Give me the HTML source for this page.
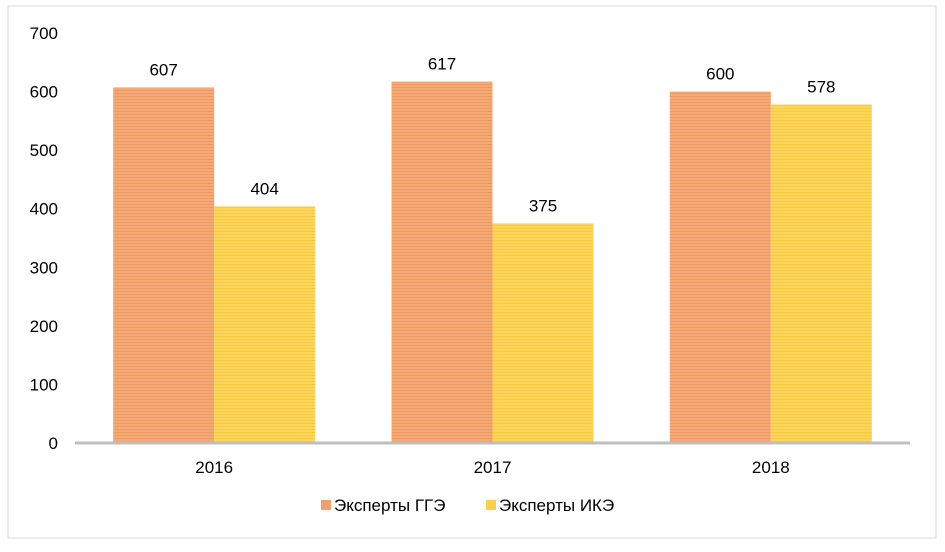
<!DOCTYPE html>
<html><head><meta charset="utf-8"><style>
body{margin:0;background:#fff;font-family:"Liberation Sans",sans-serif;}
svg text{font-family:"Liberation Sans",sans-serif;fill:#000;}
</style></head><body>
<svg width="945" height="547">
<defs>
<pattern id="po" width="4" height="3" patternUnits="userSpaceOnUse"><rect width="4" height="3" fill="#f4a976"/><rect width="4" height="1" fill="#ec9a62"/></pattern>
<pattern id="py" width="4" height="3" patternUnits="userSpaceOnUse"><rect width="4" height="3" fill="#fcd55c"/><rect width="4" height="1" fill="#f8cc40"/></pattern>
</defs>
<rect x="8" y="6" width="928" height="532" fill="#fff" stroke="#d9d9d9"/>
<g id="yaxis"></g><g id="bars"></g>
<line x1="75" y1="443" x2="910" y2="443" stroke="#bfbfbf" stroke-width="3"/>
<g>
<rect x="321" y="500" width="10" height="10" fill="#f0a06a"/>
<text x="334" y="511" font-size="17">Эксперты ГГЭ</text>
<rect x="486" y="500" width="10" height="10" fill="#fcd04c"/>
<text x="499" y="511" font-size="17">Эксперты ИКЭ</text>
</g>
</svg>
<script>
const categories=["2016","2017","2018"];
const gge=[607,617,600];
const ike=[404,375,578];
const ticks=[0,100,200,300,400,500,600,700];
const NS="http://www.w3.org/2000/svg";
const y0=443,y1=33,vmax=700,xl=75,xr=910;
const Y=v=>y0-(v/vmax)*(y0-y1);
const cw=(xr-xl)/categories.length;
const CX=i=>xl+cw*(i+0.5);
function mk(t,a,p){const e=document.createElementNS(NS,t);for(const k in a)e.setAttribute(k,a[k]);p.appendChild(e);return e;}
const ya=document.getElementById('yaxis'),bg=document.getElementById('bars');
ticks.forEach(v=>{const t=mk('text',{x:58,y:Y(v)+6,'font-size':17,'text-anchor':'end'},ya);t.textContent=v;

});
categories.forEach((c,i)=>{
 const cx=CX(i),bw=101;
 [[gge[i],cx-bw,'url(#po)','bar-gge-'+c],[ike[i],cx,'url(#py)','bar-ike-'+c]].forEach(([v,x,f,n])=>{
  const r=mk('rect',{x:x,y:Y(v),width:bw,height:y0-Y(v),fill:f},bg);
  
  
  const l=mk('text',{x:x+bw/2,y:Y(v)-12,'font-size':17,'text-anchor':'middle'},bg);l.textContent=v;
  
  
 });
 const t=mk('text',{x:cx,y:473,'font-size':17,'text-anchor':'middle'},bg);t.textContent=c;
 
 
});
</script>
</body></html>
